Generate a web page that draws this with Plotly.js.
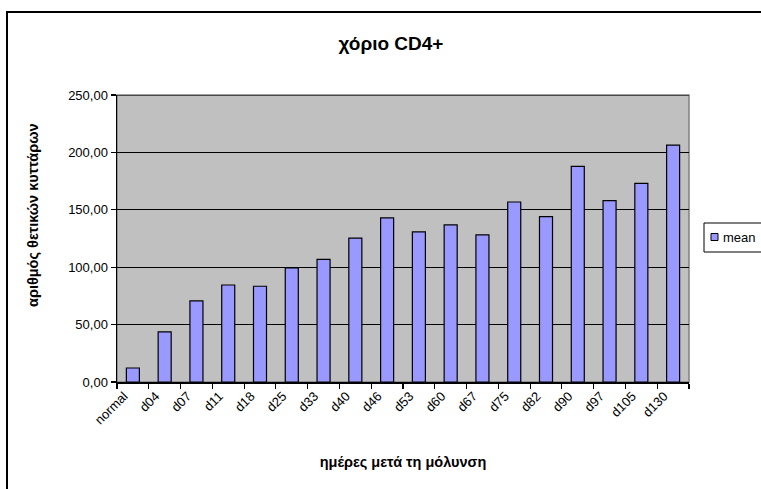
<!DOCTYPE html>
<html>
<head>
<meta charset="utf-8">
<script src="https://cdn.plot.ly/plotly-3.0.1.min.js"></script>
<style>
  html, body { margin: 0; padding: 0; overflow: hidden; background: #fff; }
  #wrap { position: relative; width: 761px; height: 489px; overflow: hidden; }
  #chart { position: absolute; left: 0; top: 0; width: 761px; height: 489px; }
  #frame { position: absolute; left: 6px; top: 11px; width: 800px; height: 520px;
           border: 2px solid #000; pointer-events: none; box-sizing: border-box; }
</style>
</head>
<body>
<div id="wrap">
  <div id="chart"></div>
  <div id="frame"></div>
</div>
<script>
const categories = ["normal", "d04", "d07", "d11", "d18", "d25", "d33", "d40", "d46",
                    "d53", "d60", "d67", "d75", "d82", "d90", "d97", "d105", "d130"];
const meanValues = [12.2, 43.6, 70.6, 84.5, 83.4, 99.3, 106.9, 125.4, 142.9,
                    130.7, 136.8, 128.1, 156.8, 144.1, 187.9, 158.0, 173.1, 206.4];
const seriesName = "mean";
const yTickValues = [0, 50, 100, 150, 200, 250];

const barColor = "#9999FF";

const trace = {
  type: "bar",
  x: categories,
  y: meanValues,
  name: seriesName,
  showlegend: false,
  marker: { color: barColor, line: { color: "#000000", width: 1.2 } },
  hoverinfo: "x+y"
};

const font = { family: "Liberation Sans, Arial, sans-serif", color: "#000" };

// plot-area pixel geometry helpers (for legend box / titles placement)
const PL = 117, PR = 689, PT = 95, PB = 382;
const px = v => (v - PL) / (PR - PL);
const py = v => (PB - v) / (PB - PT);

const layout = {
  width: 761,
  height: 489,
  margin: { l: PL, r: 761 - PR, t: PT, b: 489 - PB, autoexpand: false },
  paper_bgcolor: "#ffffff",
  plot_bgcolor: "#C0C0C0",
  separators: ",.",
  font: Object.assign({ size: 13 }, font),
  bargap: 0.59,
  showlegend: false,
  title: {
    text: "<b>χόριο CD4+</b>",
    font: Object.assign({ size: 19 }, font),
    x: 391 / 761, xref: "container", xanchor: "center",
    y: 1 - 43 / 489, yref: "container", yanchor: "middle"
  },
  xaxis: {
    type: "category",
    automargin: false,
    tickson: "boundaries",
    ticks: "outside",
    ticklen: 5,
    tickcolor: "#000",
    tickwidth: 1.2,
    tickangle: -45,
    ticklabelshift: -9,
    showline: true,
    linecolor: "#000",
    linewidth: 1.5,
    showgrid: false,
    tickfont: Object.assign({ size: 13 }, font),
    title: {
      text: "<b>ημέρες μετά τη μόλυνση</b>",
      font: Object.assign({ size: 14.5 }, font),
      standoff: 30
    }
  },
  yaxis: {
    automargin: false,
    range: [0, 250],
    tickvals: yTickValues,
    tickformat: ".2f",
    ticks: "outside",
    ticklen: 5,
    tickcolor: "#000",
    tickwidth: 1.2,
    showline: true,
    linecolor: "#000",
    linewidth: 1.5,
    showgrid: true,
    gridcolor: "#000",
    gridwidth: 1.2,
    zeroline: false,
    tickfont: Object.assign({ size: 13 }, font)
  },
  annotations: [
    {
      text: "<b>αριθμός θετικών κυττάρων</b>",
      xref: "paper", yref: "paper",
      x: px(33), y: py(216),
      xanchor: "center", yanchor: "middle",
      textangle: -90, showarrow: false,
      font: Object.assign({ size: 14.5 }, font)
    },
    {
      text: seriesName,
      xref: "paper", yref: "paper",
      x: px(721), y: py(237),
      xanchor: "left", yanchor: "middle",
      showarrow: false,
      font: Object.assign({ size: 13 }, font)
    }
  ],
  shapes: [
    {
      type: "rect", xref: "paper", yref: "paper",
      x0: 0, x1: 1, y0: 0, y1: 1,
      line: { color: "#808080", width: 1.5 },
      layer: "below"
    },
    {
      type: "line", xref: "paper", yref: "y",
      x0: 0, x1: 1, y0: 250, y1: 250,
      line: { color: "#000", width: 1.2 },
      layer: "below"
    },
    // legend box
    {
      type: "rect", xref: "paper", yref: "paper",
      x0: px(704), x1: px(790), y0: py(223), y1: py(252),
      fillcolor: "#ffffff",
      line: { color: "#000", width: 1 },
      layer: "above"
    },
    // legend symbol
    {
      type: "rect", xref: "paper", yref: "paper",
      x0: px(711), x1: px(718), y0: py(233.5), y1: py(240.5),
      fillcolor: barColor,
      line: { color: "#000", width: 1 },
      layer: "above"
    }
  ]
};

Plotly.newPlot("chart", [trace], layout, { displayModeBar: false, staticPlot: true });
</script>
</body>
</html>
